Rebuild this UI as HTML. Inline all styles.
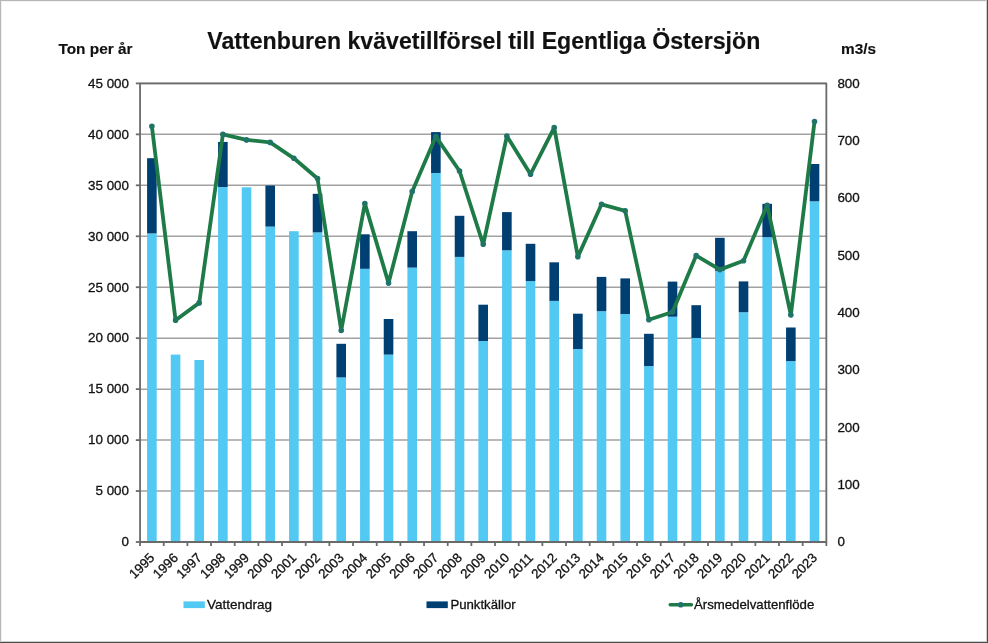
<!DOCTYPE html>
<html lang="sv">
<head>
<meta charset="utf-8">
<title>Vattenburen kvävetillförsel till Egentliga Östersjön</title>
<style>
html,body{margin:0;padding:0;background:#fff;}
body{width:988px;height:643px;overflow:hidden;position:relative;font-family:"Liberation Sans",Arial,sans-serif;}
#chart{position:absolute;left:0;top:0;width:988px;height:643px;display:block;}
#chart text{font-family:"Liberation Sans",Arial,sans-serif;fill:#111;stroke:#111;stroke-width:0.3px;stroke-linejoin:round;}
.t{font-size:23.15px;font-weight:bold;stroke-width:0.15px !important;}
.at{font-size:15.4px;font-weight:bold;stroke-width:0.15px !important;}
.al{font-size:13.4px;}
.lg{font-size:13.4px;}
</style>
</head>
<body>
<svg id="chart" role="img" aria-label="Vattenburen kvävetillförsel till Egentliga Östersjön" width="988" height="643" viewBox="0 0 988 643">
<rect x="0" y="0" width="988" height="643" fill="#ffffff"/>

<rect x="0" y="0" width="988" height="1" fill="#b6b6b6"/>
<rect x="0" y="1" width="988" height="1" fill="#f4f4f4"/>
<rect x="0" y="0" width="1" height="643" fill="#b6b6b6"/>
<rect x="1" y="1" width="1" height="642" fill="#f4f4f4"/>
<rect x="986" y="0" width="1" height="643" fill="#cdcdcd"/>
<rect x="987" y="0" width="1" height="643" fill="#4c4c4c"/>
<rect x="0" y="641" width="987" height="1" fill="#cdcdcd"/>
<rect x="0" y="642" width="988" height="1" fill="#4c4c4c"/>
<g stroke="#A2A2A2" stroke-width="1.5" fill="none">
<line x1="140.05" y1="83.40" x2="826.35" y2="83.40"/>
<line x1="140.05" y1="134.36" x2="826.35" y2="134.36"/>
<line x1="140.05" y1="185.31" x2="826.35" y2="185.31"/>
<line x1="140.05" y1="236.27" x2="826.35" y2="236.27"/>
<line x1="140.05" y1="287.22" x2="826.35" y2="287.22"/>
<line x1="140.05" y1="338.18" x2="826.35" y2="338.18"/>
<line x1="140.05" y1="389.13" x2="826.35" y2="389.13"/>
<line x1="140.05" y1="440.09" x2="826.35" y2="440.09"/>
<line x1="140.05" y1="491.04" x2="826.35" y2="491.04"/>
<line x1="140.05" y1="542.00" x2="826.35" y2="542.00"/>
</g>
<g fill="#52C9F2">
<rect x="147.08" y="233.40" width="9.6" height="308.60"/>
<rect x="170.75" y="354.60" width="9.6" height="187.40"/>
<rect x="194.41" y="360.00" width="9.6" height="182.00"/>
<rect x="218.08" y="187.00" width="9.6" height="355.00"/>
<rect x="241.74" y="187.30" width="9.6" height="354.70"/>
<rect x="265.41" y="226.60" width="9.6" height="315.40"/>
<rect x="289.08" y="231.20" width="9.6" height="310.80"/>
<rect x="312.74" y="232.40" width="9.6" height="309.60"/>
<rect x="336.41" y="377.40" width="9.6" height="164.60"/>
<rect x="360.07" y="268.80" width="9.6" height="273.20"/>
<rect x="383.74" y="354.60" width="9.6" height="187.40"/>
<rect x="407.40" y="267.60" width="9.6" height="274.40"/>
<rect x="431.07" y="173.00" width="9.6" height="369.00"/>
<rect x="454.73" y="256.90" width="9.6" height="285.10"/>
<rect x="478.40" y="341.00" width="9.6" height="201.00"/>
<rect x="502.07" y="250.30" width="9.6" height="291.70"/>
<rect x="525.73" y="281.10" width="9.6" height="260.90"/>
<rect x="549.40" y="300.90" width="9.6" height="241.10"/>
<rect x="573.06" y="349.00" width="9.6" height="193.00"/>
<rect x="596.73" y="311.20" width="9.6" height="230.80"/>
<rect x="620.39" y="314.00" width="9.6" height="228.00"/>
<rect x="644.06" y="366.10" width="9.6" height="175.90"/>
<rect x="667.72" y="316.70" width="9.6" height="225.30"/>
<rect x="691.39" y="338.00" width="9.6" height="204.00"/>
<rect x="715.06" y="270.80" width="9.6" height="271.20"/>
<rect x="738.72" y="312.20" width="9.6" height="229.80"/>
<rect x="762.39" y="237.20" width="9.6" height="304.80"/>
<rect x="786.05" y="361.10" width="9.6" height="180.90"/>
<rect x="809.72" y="201.30" width="9.6" height="340.70"/>
</g>
<g fill="#003F72">
<rect x="147.08" y="158.20" width="9.6" height="75.20"/>
<rect x="218.08" y="141.90" width="9.6" height="45.10"/>
<rect x="265.41" y="185.50" width="9.6" height="41.10"/>
<rect x="312.74" y="193.80" width="9.6" height="38.60"/>
<rect x="336.41" y="343.80" width="9.6" height="33.60"/>
<rect x="360.07" y="234.30" width="9.6" height="34.50"/>
<rect x="383.74" y="319.00" width="9.6" height="35.60"/>
<rect x="407.40" y="231.20" width="9.6" height="36.40"/>
<rect x="431.07" y="132.10" width="9.6" height="40.90"/>
<rect x="454.73" y="215.80" width="9.6" height="41.10"/>
<rect x="478.40" y="304.70" width="9.6" height="36.30"/>
<rect x="502.07" y="212.10" width="9.6" height="38.20"/>
<rect x="525.73" y="243.80" width="9.6" height="37.30"/>
<rect x="549.40" y="262.30" width="9.6" height="38.60"/>
<rect x="573.06" y="313.70" width="9.6" height="35.30"/>
<rect x="596.73" y="276.90" width="9.6" height="34.30"/>
<rect x="620.39" y="278.40" width="9.6" height="35.60"/>
<rect x="644.06" y="333.80" width="9.6" height="32.30"/>
<rect x="667.72" y="281.60" width="9.6" height="35.10"/>
<rect x="691.39" y="305.20" width="9.6" height="32.80"/>
<rect x="715.06" y="237.80" width="9.6" height="33.00"/>
<rect x="738.72" y="281.40" width="9.6" height="30.80"/>
<rect x="762.39" y="203.80" width="9.6" height="33.40"/>
<rect x="786.05" y="327.50" width="9.6" height="33.60"/>
<rect x="809.72" y="164.00" width="9.6" height="37.30"/>
</g>
<g stroke="#6A6A6A" stroke-width="1.8" fill="none" stroke-linejoin="round">
<rect x="140.05" y="83.4" width="686.30" height="458.60"/>
<line x1="135.85" y1="83.40" x2="140.05" y2="83.40"/>
<line x1="135.85" y1="134.36" x2="140.05" y2="134.36"/>
<line x1="135.85" y1="185.31" x2="140.05" y2="185.31"/>
<line x1="135.85" y1="236.27" x2="140.05" y2="236.27"/>
<line x1="135.85" y1="287.22" x2="140.05" y2="287.22"/>
<line x1="135.85" y1="338.18" x2="140.05" y2="338.18"/>
<line x1="135.85" y1="389.13" x2="140.05" y2="389.13"/>
<line x1="135.85" y1="440.09" x2="140.05" y2="440.09"/>
<line x1="135.85" y1="491.04" x2="140.05" y2="491.04"/>
<line x1="135.85" y1="542.00" x2="140.05" y2="542.00"/>
<line x1="140.05" y1="542.0" x2="140.05" y2="546.00"/>
<line x1="163.72" y1="542.0" x2="163.72" y2="546.00"/>
<line x1="187.38" y1="542.0" x2="187.38" y2="546.00"/>
<line x1="211.05" y1="542.0" x2="211.05" y2="546.00"/>
<line x1="234.71" y1="542.0" x2="234.71" y2="546.00"/>
<line x1="258.38" y1="542.0" x2="258.38" y2="546.00"/>
<line x1="282.04" y1="542.0" x2="282.04" y2="546.00"/>
<line x1="305.71" y1="542.0" x2="305.71" y2="546.00"/>
<line x1="329.37" y1="542.0" x2="329.37" y2="546.00"/>
<line x1="353.04" y1="542.0" x2="353.04" y2="546.00"/>
<line x1="376.71" y1="542.0" x2="376.71" y2="546.00"/>
<line x1="400.37" y1="542.0" x2="400.37" y2="546.00"/>
<line x1="424.04" y1="542.0" x2="424.04" y2="546.00"/>
<line x1="447.70" y1="542.0" x2="447.70" y2="546.00"/>
<line x1="471.37" y1="542.0" x2="471.37" y2="546.00"/>
<line x1="495.03" y1="542.0" x2="495.03" y2="546.00"/>
<line x1="518.70" y1="542.0" x2="518.70" y2="546.00"/>
<line x1="542.36" y1="542.0" x2="542.36" y2="546.00"/>
<line x1="566.03" y1="542.0" x2="566.03" y2="546.00"/>
<line x1="589.69" y1="542.0" x2="589.69" y2="546.00"/>
<line x1="613.36" y1="542.0" x2="613.36" y2="546.00"/>
<line x1="637.03" y1="542.0" x2="637.03" y2="546.00"/>
<line x1="660.69" y1="542.0" x2="660.69" y2="546.00"/>
<line x1="684.36" y1="542.0" x2="684.36" y2="546.00"/>
<line x1="708.02" y1="542.0" x2="708.02" y2="546.00"/>
<line x1="731.69" y1="542.0" x2="731.69" y2="546.00"/>
<line x1="755.35" y1="542.0" x2="755.35" y2="546.00"/>
<line x1="779.02" y1="542.0" x2="779.02" y2="546.00"/>
<line x1="802.68" y1="542.0" x2="802.68" y2="546.00"/>
<line x1="826.35" y1="542.0" x2="826.35" y2="546.00"/>
</g>
<polyline points="151.88,126.20 175.55,320.20 199.21,302.90 222.88,134.40 246.54,139.90 270.21,142.40 293.88,158.30 317.54,178.50 341.21,330.50 364.87,203.50 388.54,283.10 412.20,191.50 435.87,136.60 459.53,171.00 483.20,244.30 506.87,136.10 530.53,174.20 554.20,127.60 577.86,256.80 601.53,204.30 625.19,210.80 648.86,319.70 672.52,312.00 696.19,255.60 719.86,269.60 743.52,260.80 767.19,205.30 790.85,315.00 814.52,121.60" fill="none" stroke="#1E7B48" stroke-width="3.8" stroke-linejoin="round" stroke-linecap="round"/>
<g fill="#1E7B48" stroke="#22707A" stroke-width="1.2">
<circle cx="151.88" cy="126.20" r="2.2"/>
<circle cx="175.55" cy="320.20" r="2.2"/>
<circle cx="199.21" cy="302.90" r="2.2"/>
<circle cx="222.88" cy="134.40" r="2.2"/>
<circle cx="246.54" cy="139.90" r="2.2"/>
<circle cx="270.21" cy="142.40" r="2.2"/>
<circle cx="293.88" cy="158.30" r="2.2"/>
<circle cx="317.54" cy="178.50" r="2.2"/>
<circle cx="341.21" cy="330.50" r="2.2"/>
<circle cx="364.87" cy="203.50" r="2.2"/>
<circle cx="388.54" cy="283.10" r="2.2"/>
<circle cx="412.20" cy="191.50" r="2.2"/>
<circle cx="435.87" cy="136.60" r="2.2"/>
<circle cx="459.53" cy="171.00" r="2.2"/>
<circle cx="483.20" cy="244.30" r="2.2"/>
<circle cx="506.87" cy="136.10" r="2.2"/>
<circle cx="530.53" cy="174.20" r="2.2"/>
<circle cx="554.20" cy="127.60" r="2.2"/>
<circle cx="577.86" cy="256.80" r="2.2"/>
<circle cx="601.53" cy="204.30" r="2.2"/>
<circle cx="625.19" cy="210.80" r="2.2"/>
<circle cx="648.86" cy="319.70" r="2.2"/>
<circle cx="672.52" cy="312.00" r="2.2"/>
<circle cx="696.19" cy="255.60" r="2.2"/>
<circle cx="719.86" cy="269.60" r="2.2"/>
<circle cx="743.52" cy="260.80" r="2.2"/>
<circle cx="767.19" cy="205.30" r="2.2"/>
<circle cx="790.85" cy="315.00" r="2.2"/>
<circle cx="814.52" cy="121.60" r="2.2"/>
</g>
<text class="t" x="483.8" y="48.8" text-anchor="middle">Vattenburen kvävetillförsel till Egentliga Östersjön</text>
<text class="at" x="58.4" y="53.8">Ton per år</text>
<text class="at" x="841" y="53.8">m3/s</text>
<g class="al" text-anchor="end">
<text x="129" y="87.70">45 000</text>
<text x="129" y="138.66">40 000</text>
<text x="129" y="189.61">35 000</text>
<text x="129" y="240.57">30 000</text>
<text x="129" y="291.52">25 000</text>
<text x="129" y="342.48">20 000</text>
<text x="129" y="393.43">15 000</text>
<text x="129" y="444.39">10 000</text>
<text x="129" y="495.34">5 000</text>
<text x="129" y="546.30">0</text>
</g>
<g class="al">
<text x="837.4" y="87.70">800</text>
<text x="837.4" y="145.03">700</text>
<text x="837.4" y="202.35">600</text>
<text x="837.4" y="259.68">500</text>
<text x="837.4" y="317.00">400</text>
<text x="837.4" y="374.32">300</text>
<text x="837.4" y="431.65">200</text>
<text x="837.4" y="488.98">100</text>
<text x="837.4" y="546.30">0</text>
</g>
<g class="al" text-anchor="end" style="font-size:13.2px">
<text transform="translate(155.28,558.6) rotate(-45)">1995</text>
<text transform="translate(178.95,558.6) rotate(-45)">1996</text>
<text transform="translate(202.61,558.6) rotate(-45)">1997</text>
<text transform="translate(226.28,558.6) rotate(-45)">1998</text>
<text transform="translate(249.94,558.6) rotate(-45)">1999</text>
<text transform="translate(273.61,558.6) rotate(-45)">2000</text>
<text transform="translate(297.28,558.6) rotate(-45)">2001</text>
<text transform="translate(320.94,558.6) rotate(-45)">2002</text>
<text transform="translate(344.61,558.6) rotate(-45)">2003</text>
<text transform="translate(368.27,558.6) rotate(-45)">2004</text>
<text transform="translate(391.94,558.6) rotate(-45)">2005</text>
<text transform="translate(415.60,558.6) rotate(-45)">2006</text>
<text transform="translate(439.27,558.6) rotate(-45)">2007</text>
<text transform="translate(462.93,558.6) rotate(-45)">2008</text>
<text transform="translate(486.60,558.6) rotate(-45)">2009</text>
<text transform="translate(510.27,558.6) rotate(-45)">2010</text>
<text transform="translate(533.93,558.6) rotate(-45)">2011</text>
<text transform="translate(557.60,558.6) rotate(-45)">2012</text>
<text transform="translate(581.26,558.6) rotate(-45)">2013</text>
<text transform="translate(604.93,558.6) rotate(-45)">2014</text>
<text transform="translate(628.59,558.6) rotate(-45)">2015</text>
<text transform="translate(652.26,558.6) rotate(-45)">2016</text>
<text transform="translate(675.92,558.6) rotate(-45)">2017</text>
<text transform="translate(699.59,558.6) rotate(-45)">2018</text>
<text transform="translate(723.26,558.6) rotate(-45)">2019</text>
<text transform="translate(746.92,558.6) rotate(-45)">2020</text>
<text transform="translate(770.59,558.6) rotate(-45)">2021</text>
<text transform="translate(794.25,558.6) rotate(-45)">2022</text>
<text transform="translate(817.92,558.6) rotate(-45)">2023</text>
</g>
<rect x="183.5" y="601.4" width="21.3" height="6.7" fill="#52C9F2"/>
<text class="lg" x="207" y="608.5" style="font-size:13.5px">Vattendrag</text>
<rect x="426.5" y="601.4" width="21.3" height="6.7" fill="#003F72"/>
<text class="lg" x="450.4" y="608.5" style="font-size:13.2px">Punktkällor</text>
<line x1="670.2" y1="604.8" x2="691.5" y2="604.8" stroke="#1E7B48" stroke-width="3.4" stroke-linecap="round"/>
<circle cx="680.8" cy="604.8" r="2.2" fill="#1E7B48" stroke="#22707A" stroke-width="1.2"/>
<text class="lg" x="694" y="608.5" style="font-size:13.2px">Årsmedelvattenflöde</text>
</svg>
</body>
</html>
